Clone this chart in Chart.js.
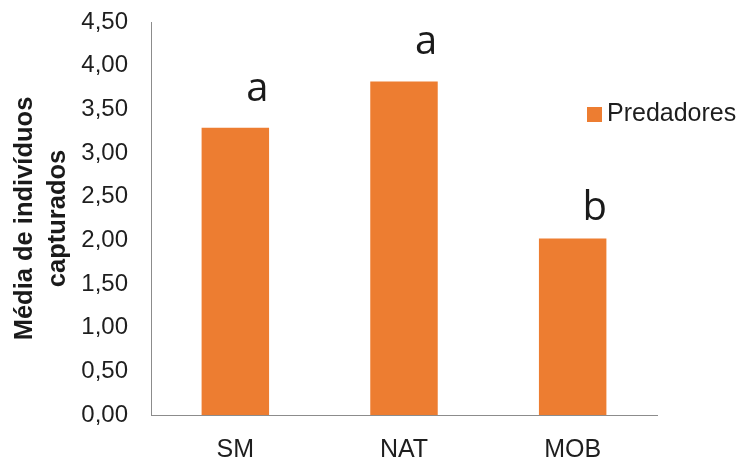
<!DOCTYPE html>
<html>
<head>
<meta charset="utf-8">
<script src="https://cdn.jsdelivr.net/npm/chart.js@4"></script>
<style>
  html, body { margin: 0; padding: 0; background: #fff; }
  #wrap { width: 742px; height: 459px; position: relative; }
</style>
</head>
<body>
<div id="wrap"><canvas id="barChart" width="742" height="459"></canvas></div>
<script>
// data
const categories = ['SM', 'NAT', 'MOB'];
const predadores = [3.29, 3.82, 2.02];
const letters = ['a', 'a', 'b'];
const seriesName = 'Predadores';
const yTitle = ['Média de indivíduos', 'capturados'];

const barColor = '#ED7D31';
const textColor = '#1e1e1e';

// draws the significance letters and the legend box
const extras = {
  id: 'extras',
  afterDatasetsDraw(chart) {
    const ctx = chart.ctx;
    const meta = chart.getDatasetMeta(0);
    ctx.save();
    ctx.fillStyle = '#1a1a1a';
    ctx.font = '40px "Open Sans"';
    ctx.textAlign = 'center';
    ctx.textBaseline = 'alphabetic';
    meta.data.forEach((bar, i) => {
      const off = letters[i] === 'b' ? 19 : 27;
      ctx.fillText(letters[i], bar.x + 22, bar.y - off);
    });

    // legend
    ctx.fillStyle = barColor;
    ctx.fillRect(587, 107, 15, 15);
    ctx.fillStyle = textColor;
    ctx.font = '25px "Liberation Sans"';
    ctx.textAlign = 'left';
    ctx.textBaseline = 'middle';
    ctx.fillText(seriesName, 607, 114);
    ctx.restore();
  }
};

const ctx = document.getElementById('barChart').getContext('2d');
new Chart(ctx, {
  type: 'bar',
  data: {
    labels: categories,
    datasets: [{
      label: seriesName,
      data: predadores,
      backgroundColor: barColor,
      borderWidth: 0,
      categoryPercentage: 1,
      barPercentage: 0.4
    }]
  },
  options: {
    responsive: false,
    animation: false,
    layout: { padding: { top: 22, right: 85, left: 0, bottom: 0 } },
    plugins: {
      legend: { display: false },
      tooltip: { enabled: false }
    },
    scales: {
      x: {
        grid: { display: false, drawTicks: false },
        border: { color: '#8c8c8c', width: 1 },
        ticks: {
          color: textColor,
          font: { family: 'Liberation Sans', size: 25 },
          padding: 20
        },
        afterFit(scale) {
          scale.height = 44;
          scale.paddingLeft = 0;
          scale.paddingRight = 0;
        }
      },
      y: {
        min: 0,
        max: 4.5,
        grid: { display: false, drawTicks: false },
        border: { color: '#8c8c8c', width: 1 },
        ticks: {
          stepSize: 0.5,
          color: textColor,
          font: { family: 'Liberation Sans', size: 24 },
          padding: 23,
          callback: v => Number(v).toFixed(2).replace('.', ',')
        },
        title: {
          display: true,
          text: yTitle,
          color: '#1a1a1a',
          font: { family: 'Liberation Sans', size: 25.5, weight: 'bold', lineHeight: 1.28 },
          padding: { top: 9, bottom: 0 }
        },
        afterFit(scale) {
          scale.width = 151;
          scale.paddingTop = 0;
          scale.paddingBottom = 0;
        }
      }
    }
  },
  plugins: [extras]
});
</script>
</body>
</html>
